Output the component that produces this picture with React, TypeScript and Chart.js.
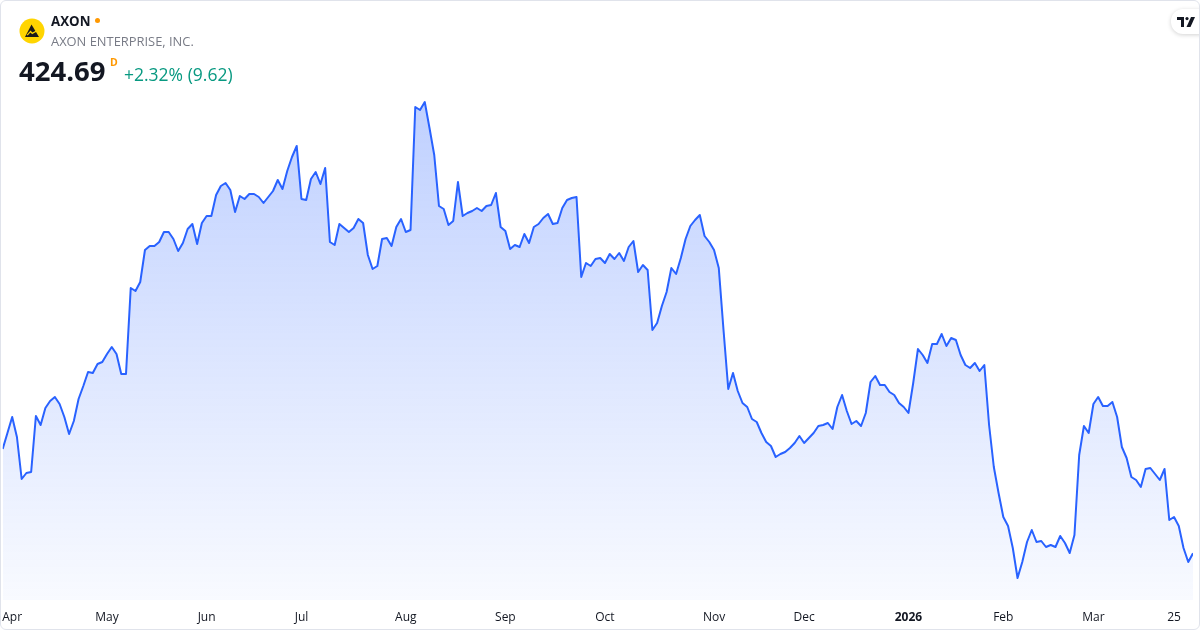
import React, { useEffect, useRef } from "react";
import { Chart, registerables } from "chart.js";

Chart.register(...registerables);

// Daily closes (one per trading day)
const prices: number[] = [
  529, 545, 561, 541, 499, 505, 506, 562, 553, 570, 577, 581, 574, 561, 544, 557, 579, 592, 606, 605,
  614, 616, 624, 631, 624, 604, 604, 690, 687, 696, 728, 732, 732, 736, 746, 746, 739, 727, 735, 749,
  754, 734,
  755, 762, 762, 783, 792, 795, 788, 766, 782, 779, 784, 784, 781, 775, 781, 787, 798, 789, 807, 821,
  832, 779, 778, 799, 806, 794, 810, 736, 733, 754, 750, 746, 750, 759, 755, 723, 709, 712, 739, 740,
  732, 751, 759, 746,
  748, 871, 868, 876, 850, 823, 772, 769, 753, 757, 796, 762, 765, 767, 770, 767, 772, 773, 785, 751,
  747, 729, 733, 731, 744, 735, 751, 754, 760, 764, 754, 755, 770, 778, 780, 781, 701, 715, 712, 719,
  720, 715, 724,
  719, 725, 717, 731, 737, 706, 713, 708, 648, 655, 672, 686, 710, 704, 720, 739, 752, 758, 763, 742,
  736, 728, 710, 648, 589, 605, 587, 575, 571, 559, 556, 545, 536, 532, 521, 524, 526, 530, 535, 542,
  535, 540, 545, 552, 553, 555, 549, 571, 583, 567, 554, 557, 552, 565, 596, 602, 593, 593, 586, 583,
  575, 571, 565, 595, 629, 623, 615, 634, 634, 644, 632, 640, 638, 623, 613, 610, 615, 607, 613,
  553, 511, 485, 461, 452, 430, 400, 416, 436, 448, 436, 437, 431, 433, 431, 442, 435, 425, 443, 523,
  552, 545, 574, 581, 572, 572, 576, 561, 531, 520, 501, 498, 491, 509, 510, 504, 498, 509, 458, 461,
  452, 430, 416, 424.69,
];

// Positions (trading-day index) of the time-axis labels
const tickIndices: number[] = [2, 22, 43, 63, 85, 106, 127, 150, 169, 191, 211, 230, 247];
const tickLabels: string[] = ["Apr", "May", "Jun", "Jul", "Aug", "Sep", "Oct", "Nov", "Dec", "2026", "Feb", "Mar", "25"];
const boldLabels: string[] = ["2026"];

const ticker = "AXON";
const companyName = "AXON ENTERPRISE, INC.";
const lastPrice = "424.69";
const intervalMark = "D";
const changeText = "+2.32% (9.62)";

const FONT = "'Open Sans', 'Noto Sans', sans-serif";

export default function App() {
  const canvasRef = useRef<HTMLCanvasElement | null>(null);

  useEffect(() => {
    const canvas = canvasRef.current;
    if (!canvas) return;
    const points = prices.map((p, i) => ({ x: i, y: p }));
    const chart = new Chart(canvas, {
      type: "line",
      data: {
        datasets: [
          {
            data: points,
            borderColor: "#2962ff",
            borderWidth: 2,
            pointRadius: 0,
            tension: 0,
            borderJoinStyle: "round",
            fill: "start",
            backgroundColor: (ctx: any) => {
              const area = ctx.chart.chartArea;
              if (!area) return "rgba(41,98,255,0.15)";
              const g = ctx.chart.ctx.createLinearGradient(0, area.top, 0, area.bottom);
              g.addColorStop(0, "rgba(41,98,255,0.30)");
              g.addColorStop(1, "rgba(41,98,255,0.03)");
              return g;
            },
          },
        ],
      },
      options: {
        responsive: false,
        animation: false,
        events: [],
        layout: { autoPadding: false, padding: { left: 2.7, right: 7, top: 95, bottom: 5.6 } },
        plugins: { legend: { display: false }, tooltip: { enabled: false } },
        scales: {
          x: {
            type: "linear",
            min: 0,
            max: prices.length - 1,
            grid: { display: false, drawTicks: true, tickLength: 10 },
            border: { display: false },
            afterBuildTicks: (scale: any) => {
              scale.ticks = tickIndices.map((v) => ({ value: v }));
            },
            ticks: {
              autoSkip: false,
              maxRotation: 0,
              padding: 0,
              color: "#131722",
              font: (ctx: any) => {
                const v = ctx.tick ? ctx.tick.value : -1;
                const lbl = tickLabels[tickIndices.indexOf(v)];
                return { family: FONT, size: 12, weight: boldLabels.includes(lbl) ? "bold" : "normal" };
              },
              callback: (v: any) => {
                const k = tickIndices.indexOf(Number(v));
                return k >= 0 ? tickLabels[k] : "";
              },
            },
          },
          y: {
            display: false,
            min: 378,
            max: 883,
          },
        },
      },
    } as any);
    return () => chart.destroy();
  }, []);

  return (
    <div
      style={{
        position: "fixed",
        left: 0,
        top: 0,
        width: 1200,
        height: 630,
        boxSizing: "border-box",
        border: "1px solid #e0e3eb",
        borderRadius: 6,
        overflow: "hidden",
        background: "#ffffff",
        fontFamily: FONT,
      }}
    >
      <canvas
        ref={canvasRef}
        width={1200}
        height={630}
        style={{ position: "absolute", left: -1, top: -1, width: 1200, height: 630 }}
      />
      {/* logo */}
      <svg style={{ position: "absolute", left: 18, top: 17 }} width={26} height={26} viewBox="0 0 26 26">
        <circle cx={13} cy={13} r={12.5} fill="#ffd500" />
        <path d="M12.5 6.5 L20 19 L6 19 Z" fill="#1a1a1a" />
        <path d="M8.2 17.2 L11.6 13.4 L13.2 15.4 L17.6 13" fill="none" stroke="#ffd500" strokeWidth={1.2} />
      </svg>
      <div
        style={{
          position: "absolute",
          left: 50,
          top: 11,
          fontSize: 13.3,
          fontWeight: 700,
          color: "#131722",
          lineHeight: "18px",
        }}
      >
        {ticker}
        <span
          style={{
            display: "inline-block",
            width: 5,
            height: 5,
            borderRadius: 3,
            background: "#ff9800",
            marginLeft: 5,
            verticalAlign: "middle",
            position: "relative",
            top: -2,
          }}
        />
      </div>
      <div
        style={{
          position: "absolute",
          left: 50,
          top: 31,
          fontSize: 12.9,
          color: "#787b86",
          lineHeight: "18px",
        }}
      >
        {companyName}
      </div>
      <div
        style={{
          position: "absolute",
          left: 18,
          top: 52,
          fontSize: 27.5,
          fontWeight: 700,
          color: "#131722",
          lineHeight: "36px",
          whiteSpace: "nowrap",
        }}
      >
        {lastPrice}
      </div>
      <div
        style={{
          position: "absolute",
          left: 109,
          top: 54,
          fontSize: 10.5,
          fontWeight: 700,
          color: "#ff9800",
          lineHeight: "14px",
        }}
      >
        {intervalMark}
      </div>
      <div
        style={{
          position: "absolute",
          left: 123,
          top: 62,
          fontSize: 17.5,
          color: "#089981",
          lineHeight: "22px",
          whiteSpace: "nowrap",
        }}
      >
        {changeText}
      </div>
      {/* TradingView mark */}
      <div
        style={{
          position: "absolute",
          left: 1170,
          top: 8,
          width: 40,
          height: 25,
          borderRadius: 12,
          background: "#ffffff",
          boxShadow: "0 1px 4px rgba(0,0,0,0.18)",
        }}
      >
        <svg style={{ position: "absolute", left: 6, top: 8 }} width={18} height={10} viewBox="0 0 18 10">
          <path d="M0 0 H7 V10 H4 V3 H0 Z" fill="#131722" />
          <circle cx={10} cy={1.6} r={1.6} fill="#131722" />
          <path d="M14 0 H18 L13.5 10 H9.5 Z" fill="#131722" />
        </svg>
      </div>
    </div>
  );
}
